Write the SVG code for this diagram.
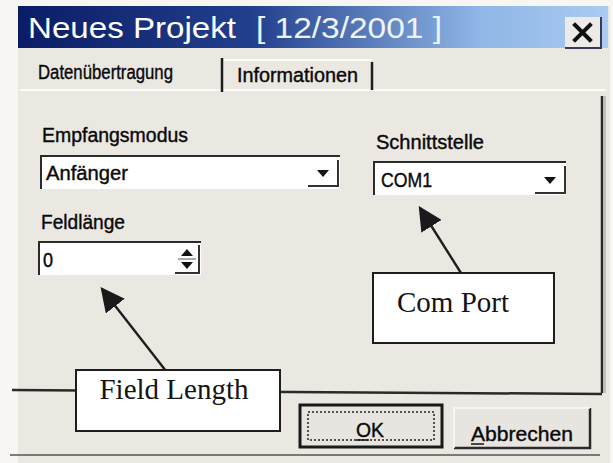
<svg xmlns="http://www.w3.org/2000/svg" width="613" height="463" viewBox="0 0 613 463">
  <defs>
    <linearGradient id="titleGrad" x1="0" y1="0" x2="1" y2="0">
      <stop offset="0" stop-color="#0b1c66"/>
      <stop offset="0.4" stop-color="#22408d"/>
      <stop offset="0.78" stop-color="#8fb6e6"/>
      <stop offset="1" stop-color="#aacbf2"/>
    </linearGradient>
    <marker id="arrowBig" viewBox="0 0 10 10" refX="9" refY="5" markerWidth="24" markerHeight="24" markerUnits="userSpaceOnUse" orient="auto">
      <path d="M0,0 L10,5 L0,10 z" fill="#1a1a1a"/>
    </marker>
  </defs>
  <style>
    .ui { font-family: "Liberation Sans", Arial, sans-serif; fill: #0a0a0a; stroke: #0a0a0a; stroke-width: 0.4; }
    .note { font-family: "Liberation Serif", "Times New Roman", serif; fill: #141414; }
    .field { fill: #ffffff; }
    .sunk { fill: none; stroke: #2b2b2b; stroke-width: 2; }
    .callout { fill: #ffffff; stroke: #1e1e1e; stroke-width: 2; }
    .lead { stroke: #1e1e1e; stroke-width: 2.4; fill: none; }
  </style>

  <!-- page -->
  <rect x="0" y="0" width="613" height="463" fill="#f7f6f3"/>

  <!-- dialog body -->
  <rect id="dialog" x="18" y="6" width="592" height="457" fill="#ebe8e2"/>

  <!-- title bar -->
  <g id="titlebar">
    <rect x="18" y="6" width="590" height="42" fill="url(#titleGrad)"/>
    <text x="28" y="38" font-family="Liberation Sans, Arial, sans-serif" font-size="30" fill="#ffffff" textLength="208" lengthAdjust="spacingAndGlyphs">Neues Projekt</text>
    <text x="256" y="38" font-family="Liberation Sans, Arial, sans-serif" font-size="30" fill="#eef2fc" textLength="186" lengthAdjust="spacingAndGlyphs">[ 12/3/2001 ]</text>
    <g id="close">
      <rect x="565" y="17" width="36" height="31" fill="#ecebe7"/>
      <path d="M565,48 L601,48 L601,17" fill="none" stroke="#3a3a55" stroke-width="2"/>
      <path d="M575,25 L590,40 M590,25 L575,40" stroke="#111" stroke-width="4" stroke-linecap="square"/>
    </g>
  </g>

  <!-- tabs -->
  <g id="tabs">
    <line x1="20" y1="90" x2="606" y2="90" stroke="#fbfbfa" stroke-width="2"/>
    <text x="38" y="79" class="ui" font-size="20" textLength="135" lengthAdjust="spacingAndGlyphs">Datenübertragung</text>
    <line x1="222" y1="58" x2="222" y2="92" stroke="#1e1e1e" stroke-width="2.5"/>
    <line x1="224" y1="60" x2="372" y2="60" stroke="#fbfbfa" stroke-width="2"/>
    <text x="237" y="82" class="ui" font-size="20" textLength="121" lengthAdjust="spacingAndGlyphs">Informationen</text>
    <line x1="372" y1="62" x2="372" y2="90" stroke="#1e1e1e" stroke-width="2.5"/>
  </g>

  <!-- panel frame -->
  <g id="panel">
    <line x1="602" y1="96" x2="602" y2="393" stroke="#2a2a2a" stroke-width="2.5"/>
    <line x1="605" y1="96" x2="605" y2="393" stroke="#9a9a9a" stroke-width="1"/>
    <line x1="12" y1="390" x2="602" y2="394" stroke="#2a2a2a" stroke-width="2.5"/>
    <line x1="10" y1="455" x2="600" y2="455" stroke="#555" stroke-width="1.5"/>
  </g>

  <!-- Empfangsmodus -->
  <g id="empfangsmodus">
    <text x="42" y="142" class="ui" font-size="20" textLength="146" lengthAdjust="spacingAndGlyphs">Empfangsmodus</text>
    <rect x="40" y="155" width="300" height="34" class="field"/>
    <path d="M41,189 L41,156 L340,156" class="sunk"/>
    <text x="46" y="180" class="ui" font-size="20" textLength="82" lengthAdjust="spacingAndGlyphs">Anfänger</text>
    <path d="M308,186 L338,186 L338,160" fill="none" stroke="#333" stroke-width="2"/>
    <path d="M317,170 L329,170 L323,177 z" fill="#111"/>
  </g>

  <!-- Schnittstelle -->
  <g id="schnittstelle">
    <text x="376" y="149" class="ui" font-size="20" textLength="108" lengthAdjust="spacingAndGlyphs">Schnittstelle</text>
    <rect x="373" y="161" width="193" height="34" class="field"/>
    <path d="M374,195 L374,162 L566,162" class="sunk"/>
    <text x="381" y="187" class="ui" font-size="20" textLength="51" lengthAdjust="spacingAndGlyphs">COM1</text>
    <path d="M535,193 L565,193 L565,166" fill="none" stroke="#333" stroke-width="2"/>
    <path d="M544,177 L556,177 L550,184 z" fill="#111"/>
  </g>

  <!-- Feldlänge -->
  <g id="feldlaenge">
    <text x="41" y="229" class="ui" font-size="20" textLength="84" lengthAdjust="spacingAndGlyphs">Feldlänge</text>
    <rect x="38" y="241" width="163" height="34" class="field"/>
    <path d="M39,275 L39,242 L201,242" class="sunk"/>
    <text x="43" y="267" class="ui" font-size="20" textLength="10" lengthAdjust="spacingAndGlyphs">0</text>
    <path d="M175,273 L199,273 L199,245" fill="none" stroke="#333" stroke-width="2"/>
    <line x1="178" y1="259" x2="196" y2="259" stroke="#555" stroke-width="1"/>
    <path d="M181,256 L193,256 L187,249 z" fill="#111"/>
    <path d="M181,262 L193,262 L187,269 z" fill="#111"/>
  </g>

  <!-- connectors -->
  <g id="connectors">
    <line x1="461" y1="273" x2="420" y2="208" class="lead" marker-end="url(#arrowBig)"/>
    <line x1="166" y1="371" x2="102" y2="289" class="lead" marker-end="url(#arrowBig)"/>
  </g>

  <!-- callouts -->
  <g id="comport">
    <rect x="373" y="273" width="181" height="70" class="callout"/>
    <text x="453" y="312" class="note" font-size="29" text-anchor="middle">Com Port</text>
  </g>
  <g id="fieldlength">
    <rect x="76" y="370" width="204" height="61" class="callout"/>
    <text x="174" y="399" class="note" font-size="29" text-anchor="middle">Field Length</text>
  </g>

  <!-- buttons -->
  <g id="ok">
    <rect x="300" y="405" width="142" height="42" fill="#e8e5e0" stroke="#1a1a1a" stroke-width="3"/>
    <rect x="308" y="412" width="126" height="28" fill="none" stroke="#222" stroke-width="1.5" stroke-dasharray="2,2"/>
    <text x="356" y="437" class="ui" font-size="21" textLength="28" lengthAdjust="spacingAndGlyphs">OK</text>
    <line x1="356" y1="440" x2="369" y2="440" stroke="#111" stroke-width="1.5"/>
  </g>
  <g id="abbrechen">
    <rect x="454" y="408" width="136" height="40" fill="#e8e5e0"/>
    <path d="M454,448 L590,448 L590,408" fill="none" stroke="#2a2a2a" stroke-width="2.5"/>
    <path d="M454,448 L454,408 L590,408" fill="none" stroke="#fafafa" stroke-width="1.5"/>
    <text x="471" y="441" class="ui" font-size="21" textLength="102" lengthAdjust="spacingAndGlyphs">Abbrechen</text>
    <line x1="471" y1="444" x2="484" y2="444" stroke="#111" stroke-width="1.5"/>
  </g>
</svg>
